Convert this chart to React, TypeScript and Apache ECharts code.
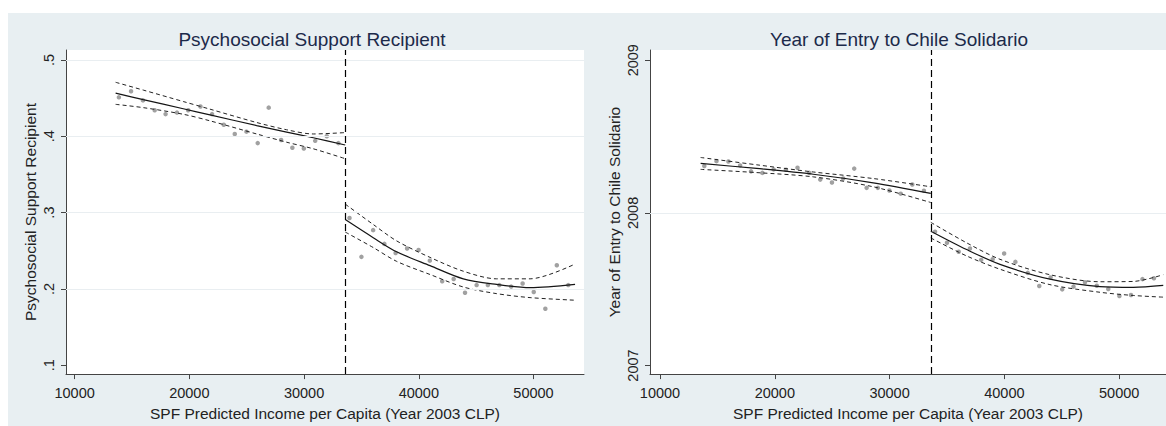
import React, { useEffect, useRef } from "react";
import * as echarts from "echarts";

// Binned income (x) positions, below and above the cutoff
const incomeBinsBelow = [13860, 14920, 15960, 16980, 17930, 18920, 19900, 20970, 21980, 23000, 23960, 24980, 25960, 26920, 28000, 28980, 29980, 30970, 31980, 32990];
const incomeBinsAbove = [33960, 35000, 36020, 37000, 37980, 38980, 39980, 40960, 42040, 43040, 44030, 45040, 46020, 47020, 48050, 49050, 50020, 51030, 52030, 53030];

// Bin means
const psychBelow = [0.451, 0.459, 0.447, 0.434, 0.429, 0.431, 0.434, 0.439, 0.429, 0.415, 0.403, 0.406, 0.391, 0.4375, 0.395, 0.385, 0.384, 0.394, 0.4, 0.391];
const psychAbove = [0.293, 0.242, 0.277, 0.259, 0.247, 0.253, 0.251, 0.237, 0.21, 0.213, 0.195, 0.205, 0.205, 0.205, 0.203, 0.207, 0.196, 0.174, 0.231, 0.205];
const yearBelow = [2008.307, 2008.339, 2008.337, 2008.311, 2008.272, 2008.262, 2008.285, 2008.283, 2008.296, 2008.262, 2008.218, 2008.199, 2008.225, 2008.29, 2008.164, 2008.164, 2008.147, 2008.126, 2008.186, 2008.145];
const yearAbove = [2007.877, 2007.804, 2007.745, 2007.767, 2007.692, 2007.696, 2007.734, 2007.679, 2007.607, 2007.521, 2007.577, 2007.499, 2007.517, 2007.545, 2007.523, 2007.501, 2007.456, 2007.462, 2007.566, 2007.572];

const cutoff = 33590;

// Fitted curves with confidence bands
const psychFitBelowX = [13575, 15980, 19470, 21800, 25870, 28480, 30800, 33590];
const psychFitBelow = [0.4564, 0.448, 0.436, 0.428, 0.414, 0.4055, 0.398, 0.3885];
const psychUpperBelow = [0.4707, 0.4605, 0.4455, 0.4355, 0.418, 0.4085, 0.403, 0.4048];
const psychLowerBelow = [0.4418, 0.4375, 0.4288, 0.4202, 0.403, 0.3922, 0.3836, 0.3706];

const psychFitAboveX = [33590, 36030, 38070, 40980, 43880, 46790, 49700, 53620];
const psychFitAbove = [0.2908, 0.2671, 0.2486, 0.2305, 0.2132, 0.2059, 0.2016, 0.2059];
const psychUpperAbove = [0.3111, 0.2844, 0.2629, 0.2413, 0.2232, 0.2132, 0.2132, 0.2326];
const psychLowerAbove = [0.2745, 0.2542, 0.2361, 0.2189, 0.2025, 0.1938, 0.1886, 0.1852];

const yearFitBelowX = [13540, 18420, 23350, 28580, 33590];
const yearFitBelow = [2008.324, 2008.291, 2008.253, 2008.197, 2008.128];
const yearUpperBelow = [2008.363, 2008.315, 2008.268, 2008.225, 2008.171];
const yearLowerBelow = [2008.285, 2008.264, 2008.236, 2008.171, 2008.068];

const yearFitAboveX = [33590, 36710, 39620, 43970, 48330, 51230, 53840];
const yearFitAbove = [2007.88, 2007.76, 2007.663, 2007.566, 2007.517, 2007.512, 2007.525];
const yearUpperAbove = [2007.938, 2007.804, 2007.696, 2007.595, 2007.549, 2007.551, 2007.595];
const yearLowerAbove = [2007.836, 2007.718, 2007.631, 2007.53, 2007.48, 2007.459, 2007.448];

// Ticks
const incomeTicks = [10000, 20000, 30000, 40000, 50000];
const psychTicks = [0.1, 0.2, 0.3, 0.4, 0.5];
const yearTicks = [2007, 2008, 2009];
const psychGridLines = [0.2, 0.3, 0.4, 0.5];
const yearGridLines = [2008];

const titles = ["Psychosocial Support Recipient", "Year of Entry to Chile Solidario"];
const xTitle = "SPF Predicted Income per Capita (Year 2003 CLP)";

const FONT = "'Liberation Sans', Arial, sans-serif";

const zip = (xs: number[], ys: number[]) => xs.map((x, i) => [x, ys[i]]);

function panelSeries(
  p: number,
  below: number[],
  above: number[],
  fitBX: number[], fitB: number[], upB: number[], loB: number[],
  fitAX: number[], fitA: number[], upA: number[], loA: number[],
  grid: number[]
) {
  const base = { xAxisIndex: p, yAxisIndex: p };
  const dashed = {
    type: "line", ...base, showSymbol: false, symbol: "none", smooth: 0.3, z: 3, silent: true,
    lineStyle: { color: "#222", width: 1, type: [4, 3] },
  };
  const solid = {
    type: "line", ...base, showSymbol: false, symbol: "none", smooth: 0.3, z: 4, silent: true,
    lineStyle: { color: "#151515", width: 1.2, type: "solid" },
  };
  return [
    {
      type: "line", ...base, data: [], z: 1, silent: true,
      markLine: {
        silent: true, symbol: ["none", "none"], label: { show: false },
        lineStyle: { color: "#e9eef1", width: 1, type: "solid" },
        data: grid.map((v) => ({ yAxis: v })),
      },
    },
    {
      type: "scatter", ...base, symbolSize: 4.5, z: 2, silent: true,
      itemStyle: { color: "#8a8a8a" },
      data: zip(incomeBinsBelow, below).concat(zip(incomeBinsAbove, above)),
    },
    { ...dashed, data: zip(fitBX, upB) },
    { ...dashed, data: zip(fitBX, loB) },
    { ...dashed, data: zip(fitAX, upA) },
    { ...dashed, data: zip(fitAX, loA) },
    { ...solid, data: zip(fitBX, fitB) },
    {
      ...solid, data: zip(fitAX, fitA),
      markLine: {
        silent: true, symbol: ["none", "none"], label: { show: false },
        lineStyle: { color: "#000", width: 1.2, type: [7, 4] },
        data: [{ xAxis: cutoff }],
      },
    },
  ];
}

export default function App() {
  const ref = useRef<HTMLDivElement>(null);
  useEffect(() => {
    if (!ref.current) return;
    const chart = echarts.init(ref.current, undefined, { renderer: "svg" });
    const xAxisCommon = (idx: number, min: number, max: number) => ({
      type: "value", gridIndex: idx, min, max,
      name: xTitle, nameLocation: "middle", nameGap: 19,
      nameTextStyle: { fontSize: 15.5, color: "#222", fontFamily: FONT },
      axisLine: { show: true, lineStyle: { color: "#444", width: 1 } },
      axisTick: { show: true, length: 5, lineStyle: { color: "#444" }, customValues: incomeTicks },
      axisLabel: { customValues: incomeTicks, fontSize: 14.5, color: "#222", fontFamily: FONT, margin: 11, formatter: (v: number) => String(v) },
      splitLine: { show: false },
    });
    const yAxisCommon = (idx: number, min: number, max: number, ticks: number[], name: string, fmt: (v: number) => string) => ({
      type: "value", gridIndex: idx, min, max,
      name, nameLocation: "middle", nameGap: 28,
      nameTextStyle: { fontSize: 15.5, color: "#222", fontFamily: FONT },
      axisLine: { show: true, lineStyle: { color: "#444", width: 1 } },
      axisTick: { show: true, length: 5, lineStyle: { color: "#444" }, customValues: ticks },
      axisLabel: { customValues: ticks, rotate: 90, fontSize: 14.5, color: "#222", fontFamily: FONT, margin: 10, formatter: fmt },
      splitLine: { show: false },
    });
    chart.setOption({
      animation: false,
      backgroundColor: "#ffffff",
      graphic: [
        { type: "rect", z: -100, silent: true, shape: { x: 8, y: 13, width: 1158, height: 413 }, style: { fill: "#e8eff2" } },
      ],
      title: [
        { text: titles[0], left: 307, top: 25, textAlign: "center", textStyle: { fontSize: 19, fontWeight: "normal", color: "#1c2a4a", fontFamily: FONT } },
        { text: titles[1], left: 894, top: 25, textAlign: "center", textStyle: { fontSize: 19, fontWeight: "normal", color: "#1c2a4a", fontFamily: FONT } },
      ],
      grid: [
        { left: 66, top: 50, width: 518, height: 328, show: true, backgroundColor: "#ffffff", borderWidth: 0 },
        { left: 650, top: 50, width: 516, height: 328, show: true, backgroundColor: "#ffffff", borderWidth: 0 },
      ],
      xAxis: [xAxisCommon(0, 9250, 54400), xAxisCommon(1, 9130, 54080)],
      yAxis: [
        yAxisCommon(0, 0.0884, 0.513, psychTicks, titles[0], (v: number) => v.toFixed(1).replace(/^0/, "")),
        yAxisCommon(1, 2006.944, 2009.067, yearTicks, titles[1], (v: number) => String(Math.round(v))),
      ],
      series: [
        ...panelSeries(0, psychBelow, psychAbove, psychFitBelowX, psychFitBelow, psychUpperBelow, psychLowerBelow,
          psychFitAboveX, psychFitAbove, psychUpperAbove, psychLowerAbove, psychGridLines),
        ...panelSeries(1, yearBelow, yearAbove, yearFitBelowX, yearFitBelow, yearUpperBelow, yearLowerBelow,
          yearFitAboveX, yearFitAbove, yearUpperAbove, yearLowerAbove, yearGridLines),
      ],
    });
    return () => chart.dispose();
  }, []);
  return <div ref={ref} style={{ position: "absolute", left: 0, top: 0, width: 1166, height: 426 }} />;
}
